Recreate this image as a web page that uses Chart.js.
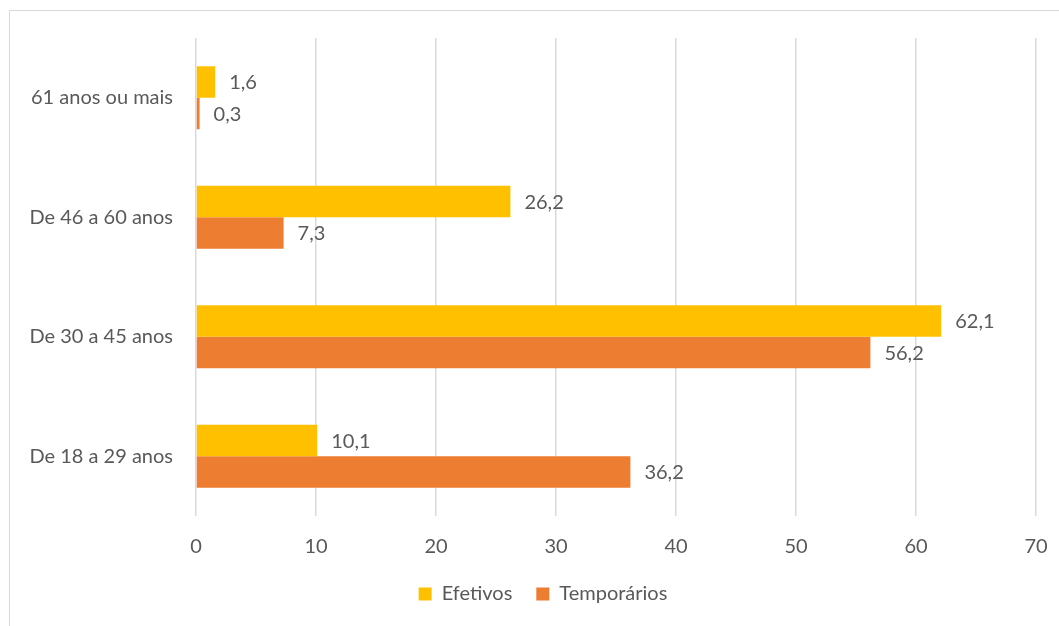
<!DOCTYPE html>
<html>
<head>
<meta charset="utf-8">
<script src="https://cdn.jsdelivr.net/npm/chart.js@4"></script>
<style>
  body { margin: 0; background: #fff; }
  #wrap { position: relative; width: 1059px; height: 626px; }
  #frame { position: absolute; left: 9px; top: 10px; width: 1100px; height: 700px; border: 1.5px solid #d9d9d9; box-sizing: border-box; }
  canvas { position: absolute; left: 0; top: 0; }
</style>
</head>
<body>
<div id="wrap">
  <div id="frame"></div>
  <canvas id="chart" width="1059" height="626"></canvas>
</div>
<script>
// categories, top to bottom
const categories = ['61 anos ou mais', 'De 46 a 60 anos', 'De 30 a 45 anos', 'De 18 a 29 anos'];
const efetivos = [1.6, 26.2, 62.1, 10.1];
const temporarios = [0.3, 7.3, 56.2, 36.2];
const xTicks = [0, 10, 20, 30, 40, 50, 60, 70];

const textColor = '#595959';
const fontFamily = 'Lato, "Open Sans", sans-serif';
const fontSize = 20;

// draw the value next to each bar end
const valueLabels = {
    id: 'valueLabels',
    afterLayout(chart) {
        // legend sits a bit right of the canvas centre, under the plot
        chart.legend.left += 25;
        chart.legend.right += 25;
    },
    afterDatasetsDraw(chart) {
        const ctx = chart.ctx;
        ctx.save();
        ctx.font = fontSize + 'px ' + fontFamily;
        ctx.fillStyle = textColor;
        ctx.textAlign = 'left';
        ctx.textBaseline = 'middle';
        chart.data.datasets.forEach((ds, i) => {
            chart.getDatasetMeta(i).data.forEach((bar, j) => {
                ctx.fillText(ds.data[j].toFixed(1).replace('.', ','), bar.x + 14, bar.y + 1);
            });
        });
        ctx.restore();
    }
};

new Chart(document.getElementById('chart'), {
    type: 'bar',
    data: {
        labels: categories,
        datasets: [
            { label: 'Efetivos', data: efetivos, backgroundColor: '#FFC000' },
            { label: 'Temporários', data: temporarios, backgroundColor: '#ED7D31' }
        ]
    },
    options: {
        indexAxis: 'y',
        responsive: false,
        animation: false,
        layout: { padding: { top: 38, right: 23, left: 0, bottom: 12 } },
        datasets: { bar: { categoryPercentage: 0.527, barPercentage: 1 } },
        scales: {
            x: {
                min: 0,
                max: 70,
                afterBuildTicks: s => { s.ticks = xTicks.map(v => ({ value: v })); },
                grid: { color: '#d9d9d9', lineWidth: 1.5, drawTicks: false },
                border: { display: false },
                ticks: { color: textColor, font: { family: fontFamily, size: fontSize }, padding: 19 },
                afterFit: s => { s.height = 44; s.paddingLeft = 0; s.paddingRight = 0; }
            },
            y: {
                grid: { display: false, drawTicks: false },
                border: { display: false },
                ticks: { color: textColor, font: { family: fontFamily, size: fontSize }, padding: 23 },
                afterFit: s => { s.width = 196; }
            }
        },
        plugins: {
            legend: {
                position: 'bottom',
                labels: {
                    color: textColor,
                    font: { family: fontFamily, size: fontSize },
                    boxWidth: 13,
                    boxHeight: 13,
                    padding: 24
                }
            },
            tooltip: { enabled: false }
        }
    },
    plugins: [valueLabels]
});
</script>
</body>
</html>
